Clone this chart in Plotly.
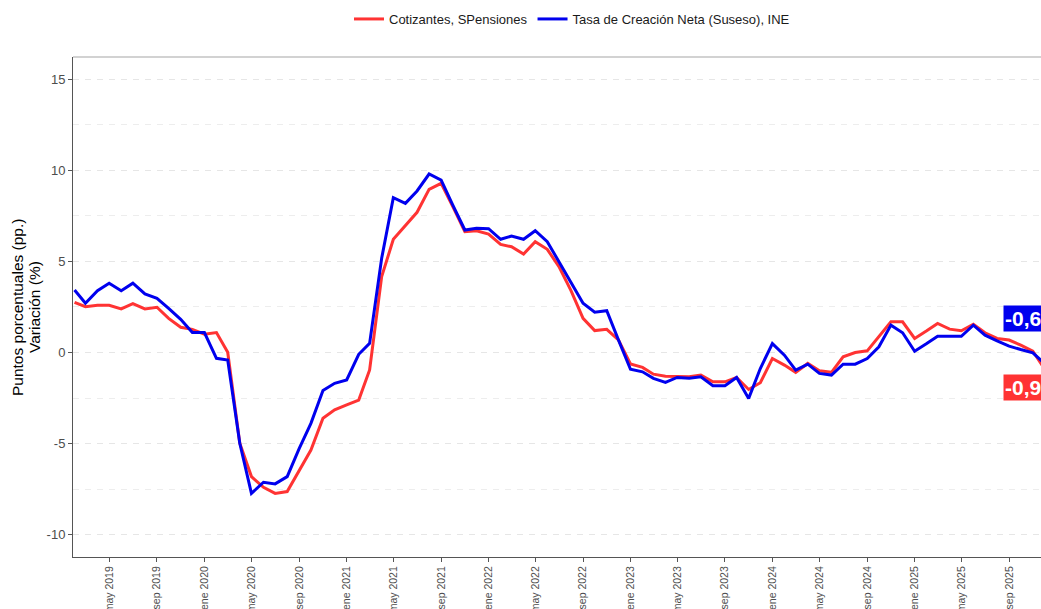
import pandas as pd
import plotly.graph_objects as go

# Monthly data, Feb 2019 .. Dec 2025
start_month = "2019-02-01"
n_months = 83

cotizantes = [2.75, 2.51, 2.59, 2.59, 2.39, 2.68, 2.39, 2.48, 1.87, 1.38, 1.27, 1.00,
              1.09, 0.01, -4.98, -6.81, -7.40, -7.73, -7.63, -6.48, -5.35, -3.61, -3.15, -2.88,
              -2.61, -0.96, 4.16, 6.21, 6.99, 7.69, 8.95, 9.28, 8.00, 6.63, 6.68, 6.50,
              5.93, 5.80, 5.40, 6.08, 5.66, 4.71, 3.39, 1.87, 1.20, 1.27, 0.69, -0.63,
              -0.82, -1.19, -1.30, -1.33, -1.33, -1.24, -1.61, -1.61, -1.37, -2.03, -1.66, -0.33,
              -0.69, -1.09, -0.60, -1.00, -1.09, -0.24, 0.00, 0.09, 0.86, 1.68, 1.68, 0.77,
              1.19, 1.59, 1.28, 1.19, 1.55, 1.08, 0.77, 0.68, 0.40, 0.07, -0.90]

tasa_ine = [3.43, 2.70, 3.39, 3.80, 3.39, 3.80, 3.21, 2.97, 2.42, 1.82, 1.09, 1.09,
            -0.32, -0.41, -4.98, -7.73, -7.12, -7.21, -6.81, -5.26, -3.89, -2.09, -1.69, -1.51,
            -0.10, 0.50, 5.17, 8.49, 8.18, 8.86, 9.79, 9.46, 8.09, 6.72, 6.81, 6.79,
            6.21, 6.39, 6.21, 6.68, 6.08, 4.98, 3.88, 2.70, 2.21, 2.29, 0.69, -0.92,
            -1.06, -1.42, -1.64, -1.37, -1.42, -1.33, -1.82, -1.82, -1.37, -2.52, -0.88, 0.49,
            -0.15, -0.97, -0.64, -1.15, -1.24, -0.64, -0.64, -0.33, 0.31, 1.50, 1.08, 0.07,
            0.49, 0.89, 0.89, 0.89, 1.50, 0.95, 0.64, 0.35, 0.16, -0.02, -0.60]

series_names = ["Cotizantes, SPensiones", "Tasa de Creación Neta (Suseso), INE"]
series_colors = ["#FF3333", "#0000EE"]

tick_dates = ["2019-05-01", "2019-09-01", "2020-01-01", "2020-05-01", "2020-09-01",
              "2021-01-01", "2021-05-01", "2021-09-01", "2022-01-01", "2022-05-01",
              "2022-09-01", "2023-01-01", "2023-05-01", "2023-09-01", "2024-01-01",
              "2024-05-01", "2024-09-01", "2025-01-01", "2025-05-01", "2025-09-01"]
tick_labels = ["may 2019", "sep 2019", "ene 2020", "may 2020", "sep 2020",
               "ene 2021", "may 2021", "sep 2021", "ene 2022", "may 2022",
               "sep 2022", "ene 2023", "may 2023", "sep 2023", "ene 2024",
               "may 2024", "sep 2024", "ene 2025", "may 2025", "sep 2025"]

y_tick_vals = [-10, -5, 0, 5, 10, 15]
y_tick_text = ["-10", "-5", "0", "5", "10", "15"]
y_minor_vals = [-7.5, -2.5, 2.5, 7.5, 12.5]

y_title_lines = ["Puntos porcentuales (pp.)", "Variación (%)"]

dates = pd.date_range(start_month, periods=n_months, freq="MS")

FONT = "Liberation Sans, Arial, sans-serif"

fig = go.Figure()
for name, vals, col in zip(series_names, [cotizantes, tasa_ine], series_colors):
    fig.add_trace(go.Scatter(x=dates, y=vals, mode="lines", name=name,
                             line=dict(color=col, width=3)))

# end labels (repelled from the last value)
label_shifts = [-19, 45]
for vals, col, ys in zip([cotizantes, tasa_ine], series_colors, label_shifts):
    last = vals[-1]
    fig.add_annotation(xref="paper", x=1, yref="y", y=last,
                       xanchor="left", yanchor="middle",
                       xshift=-38, yshift=ys, showarrow=False,
                       text="<b>" + f"{last:.1f}".replace(".", ",") + "</b>",
                       font=dict(family=FONT, size=21, color="white"),
                       bgcolor=col, borderpad=1)

# y-axis title (two lines)
for line_text, xpos in zip(y_title_lines, [-0.0578, -0.0403]):
    fig.add_annotation(xref="paper", x=xpos, yref="paper", y=0.5,
                       xanchor="center", yanchor="middle", textangle=-90,
                       showarrow=False, text=line_text,
                       font=dict(family=FONT, size=15.5, color="#000000"))

# top panel border (lighter)
fig.add_shape(type="line", xref="paper", yref="paper", x0=0, x1=1, y0=1, y1=1,
              line=dict(color="#a6a6a6", width=1.2), layer="above")

fig.update_layout(
    width=1041, height=609,
    margin=dict(l=73, r=0, t=57, b=52, autoexpand=False),
    paper_bgcolor="white", plot_bgcolor="white",
    font=dict(family=FONT, color="#1a1a1a"),
    showlegend=True,
    legend=dict(orientation="h", x=0.5155, xanchor="center", y=1.076, yanchor="middle",
                font=dict(size=13, color="#1a1a1a"), bgcolor="rgba(0,0,0,0)"),
)

fig.update_xaxes(
    type="date", range=["2019-01-28", "2025-11-22"], automargin=False,
    tickvals=tick_dates, ticktext=tick_labels, tickangle=-90,
    tickfont=dict(size=10.5, color="#4d4d4d"),
    ticks="outside", ticklen=4, tickcolor="#555555",
    showline=True, linecolor="#555555", linewidth=1,
    showgrid=False, zeroline=False,
)
fig.update_yaxes(
    range=[-11.22, 16.21], tickvals=y_tick_vals, ticktext=y_tick_text, automargin=False,
    tickfont=dict(size=13, color="#4d4d4d"),
    ticks="outside", ticklen=4, tickcolor="#555555",
    showline=True, linecolor="#555555", linewidth=1,
    showgrid=True, gridcolor="#e6e6e6", griddash="6px,6px", gridwidth=1,
    minor=dict(tickvals=y_minor_vals, showgrid=True,
               gridcolor="#ededed", griddash="6px,6px", gridwidth=1, ticks=""),
    zeroline=False,
)

fig.write_html(
    "out.html",
    config={"displayModeBar": False},
    post_script="document.body.style.margin='0';document.body.style.overflow='hidden';",
)
